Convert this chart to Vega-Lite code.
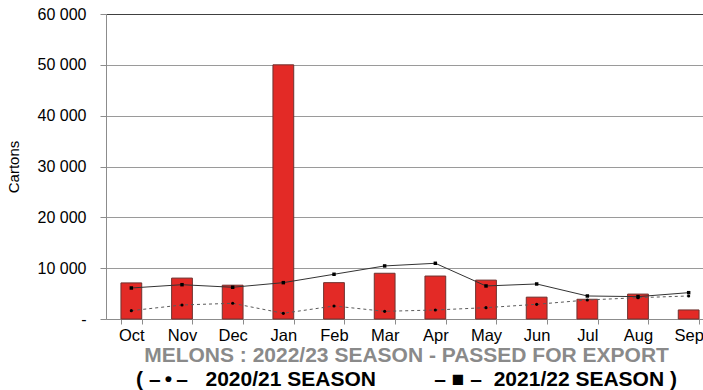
{
  "$schema": "https://vega.github.io/schema/vega-lite/v6.json",
  "autosize": {"type": "none"},
  "padding": {"left": 106, "top": 14, "right": 0, "bottom": 71},
  "width": 597,
  "height": 305,
  "background": "white",
  "title": {
    "text": "MELONS : 2022/23 SEASON - PASSED FOR EXPORT",
    "subtitle": "( –\u2009•\u2009–\u00a0\u00a0\u00a02020/21 SEASON\u00a0\u00a0\u00a0\u00a0\u00a0\u00a0\u00a0\u00a0\u00a0\u00a0–\u00a0■\u00a0–\u00a0\u00a02021/22 SEASON )",
    "orient": "bottom",
    "anchor": "middle",
    "dx": 2,
    "offset": 1,
    "font": "Liberation Sans",
    "fontSize": 21,
    "fontWeight": "bold",
    "color": "#8a8a8a",
    "subtitleFont": "Liberation Sans",
    "subtitleFontSize": 21,
    "subtitleFontWeight": "bold",
    "subtitleColor": "#000000",
    "subtitlePadding": 3
  },
  "config": {
    "view": {"stroke": null},
    "font": "Liberation Sans"
  },
  "data": {
    "values": [
      {"month": "Oct", "s2223": 7100, "s2021": 1640, "s2122": 6100},
      {"month": "Nov", "s2223": 8050, "s2021": 2760, "s2122": 6750},
      {"month": "Dec", "s2223": 6650, "s2021": 3090, "s2122": 6240},
      {"month": "Jan", "s2223": 50000, "s2021": 1120, "s2122": 7150},
      {"month": "Feb", "s2223": 7150, "s2021": 2560, "s2122": 8800},
      {"month": "Mar", "s2223": 9000, "s2021": 1510, "s2122": 10440},
      {"month": "Apr", "s2223": 8450, "s2021": 1770, "s2122": 10960},
      {"month": "May", "s2223": 7650, "s2021": 2230, "s2122": 6500},
      {"month": "Jun", "s2223": 4300, "s2021": 2890, "s2122": 6890},
      {"month": "Jul", "s2223": 3880, "s2021": 3740, "s2122": 4530},
      {"month": "Aug", "s2223": 4900, "s2021": 4190, "s2122": 4400},
      {"month": "Sep", "s2223": 1780, "s2021": 4530, "s2122": 5180}
    ]
  },
  "encoding": {
    "x": {
      "field": "month",
      "type": "nominal",
      "sort": null,
      "scale": {"range": [0, 608], "paddingInner": 0.59, "paddingOuter": 0.295},
      "axis": {
        "title": null,
        "labelAngle": 0,
        "labelFontSize": 16.5,
        "labelColor": "#000000",
        "labelPadding": 3,
        "tickBand": "extent",
        "tickSize": 5,
        "tickColor": "#8c8c8c",
        "domainColor": "#8c8c8c",
        "grid": false
      }
    }
  },
  "layer": [
    {
      "mark": {"type": "bar", "fill": "#e32a26", "stroke": "#6e3330", "strokeWidth": 1},
      "encoding": {
        "y": {
          "field": "s2223",
          "type": "quantitative",
          "scale": {"domain": [0, 60000], "nice": false},
          "axis": {
            "title": "Cartons",
            "titleFontSize": 15,
            "titleFontWeight": "normal",
            "titleColor": "#000000",
            "titlePadding": 16,
            "values": [0, 10000, 20000, 30000, 40000, 50000, 60000],
            "labelExpr": "datum.value == 0 ? '-\u00a0\u00a0\u00a0' : replace(format(datum.value, ','), ',', ' ')",
            "labelFontSize": 16,
            "labelColor": "#000000",
            "labelPadding": 14,
            "tickSize": 6,
            "tickColor": "#8c8c8c",
            "domainColor": "#8c8c8c",
            "grid": true,
            "gridColor": {"condition": {"test": "datum.value == 60000", "value": "#404040"}, "value": "#9a9a9a"},
            "gridWidth": 1
          }
        }
      }
    },
    {
      "mark": {
        "type": "line",
        "color": "#5a5a5a",
        "strokeWidth": 1,
        "strokeDash": [3, 3],
        "point": {"shape": "circle", "size": 10, "filled": true, "color": "#000000"}
      },
      "encoding": {"y": {"field": "s2021", "type": "quantitative"}}
    },
    {
      "mark": {
        "type": "line",
        "color": "#333333",
        "strokeWidth": 1,
        "point": {"shape": "square", "size": 12, "filled": true, "color": "#000000"}
      },
      "encoding": {"y": {"field": "s2122", "type": "quantitative"}}
    }
  ]
}
